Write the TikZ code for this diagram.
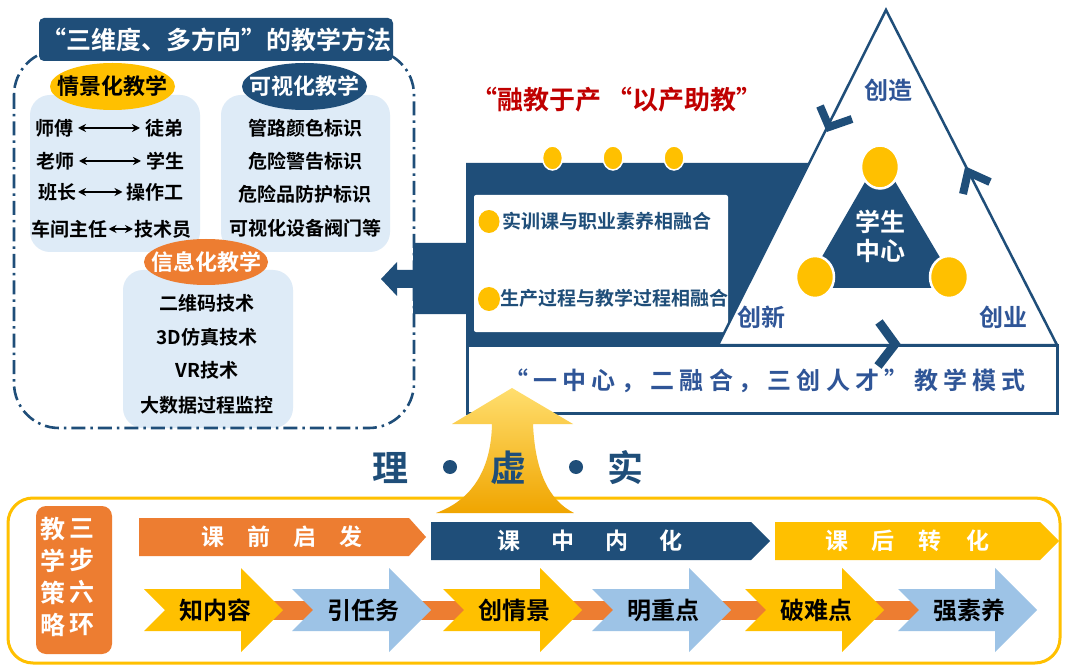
\documentclass[tikz,border=0pt]{standalone}
\usepackage{fontspec}
\setmainfont{Noto Sans CJK SC}[BoldFont={Noto Sans CJK SC Bold}]
\usetikzlibrary{arrows.meta,shapes.geometric}
\definecolor{navy}{RGB}{31,78,121}
\definecolor{tblue}{RGB}{47,85,151}
\definecolor{gold}{RGB}{255,192,0}
\definecolor{orng}{RGB}{237,125,49}
\definecolor{lightbox}{RGB}{222,235,247}
\definecolor{arrblue}{RGB}{157,195,230}
\definecolor{redtext}{RGB}{192,0,0}
\definecolor{goldA}{RGB}{255,222,110}
\definecolor{goldB}{RGB}{240,165,0}
\newcommand\fz[1]{\fontsize{#1}{#1}\selectfont\bfseries}
\newcommand\fzl[2]{\fontsize{#1}{#2}\selectfont\bfseries}
\newcommand\bigarr[4]{%
  \fill[#2] (#1,589) -- ({#1+97},589) -- ({#1+97},568) -- ({#1+139},610) -- ({#1+97},652) -- ({#1+97},631) -- (#1,631) -- ({#1+21},610) -- cycle;
  \node[font=\fz{24}] (#3) at ({#1+71},610) {#4};}
\begin{document}
\begin{tikzpicture}[x=1pt,y=-1pt,
  every node/.style={inner sep=0pt, outer sep=0pt},
  lbx/.style={fill=lightbox, rounded corners=20},
  item/.style={font=\fz{19}, inner sep=5pt},
  dbl/.style={{Stealth[length=8pt,width=8pt]}-{Stealth[length=8pt,width=8pt]}, line width=2},
  oval/.style={ellipse, minimum width=125, minimum height=47},
  dashdot/.style={navy, line width=2.6, dash pattern=on 14pt off 5pt on 2.5pt off 5pt, rounded corners=45},
  chev/.style={navy, line width=8, miter limit=10},
  gdot/.style={ellipse, fill=gold},
  banner/.style={font=\fz{23}, text=white}
]
\useasboundingbox (0,0) rectangle (1068,668);
\fill[white] (0,0) rectangle (1068,668);

% ---------- left group ----------
\node[lbx, minimum width=170, minimum height=157] (box1) at (115,173.5) {};
\node[lbx, minimum width=169, minimum height=157] (box2) at (305.5,173.5) {};
\node[lbx, minimum width=170, minimum height=158] (box3) at (208,349) {};

\node[oval, fill=gold] (e1) at (112.5,86.5) {};
\node[font=\fz{22}] at (e1) {情景化教学};
\node[oval, fill=navy] (e2) at (304.5,86.5) {};
\node[font=\fz{22}, text=white] at (e2) {可视化教学};
\node[oval, fill=orng, minimum width=124, minimum height=46] (e3) at (206,262) {};
\node[font=\fz{22}, text=white] at (e3) {信息化教学};

\node[item] (s1) at (54,128) {师傅};
\node[item] (t1) at (164,128) {徒弟};
\draw[dbl] (s1) -- (t1);
\node[item] (s2) at (55,161) {老师};
\node[item] (t2) at (165,161) {学生};
\draw[dbl] (s2) -- (t2);
\node[item, inner sep=2pt] (s3) at (57,192) {班长};
\node[item, inner sep=4pt] (t3) at (155,192) {操作工};
\draw[dbl] (s3) -- (t3);
\node[item, inner sep=1pt] (s4) at (69.5,229) {车间主任};
\node[item, inner sep=1pt] (t4) at (162.5,229) {技术员};
\draw[dbl] (s4) -- (t4);

\node[item] (v1) at (305,128) {管路颜色标识};
\node[item] (v2) at (305,161) {危险警告标识};
\node[item] (v3) at (305,194) {危险品防护标识};
\node[item] (v4) at (305,228) {可视化设备阀门等};

\node[item] (i1) at (207,303) {二维码技术};
\node[item] (i2) at (207,337) {3D仿真技术};
\node[item] (i3) at (207,370) {VR技术};
\node[item] (i4) at (207,405) {大数据过程监控};

\draw[dashdot] (14,50) rectangle (414,428);

\node[fill=navy, rounded corners=5, minimum width=354, minimum height=43, text=white, font=\fz{25}] (title) at (216,39.5) {“三维度、多方向”的教学方法};

% ---------- middle block ----------
\fill[navy] (466,163) -- (840,163) -- (840,345) -- (466,345) -- (466,314) -- (413,314) -- (413,288) -- (397,288) -- (397,296) -- (381,279) -- (397,262) -- (397,270) -- (413,270) -- (413,243) -- (466,243) -- cycle;
\node[gdot, draw=white, line width=1.5, minimum width=20, minimum height=24] (d1) at (552.5,158) {};
\node[gdot, draw=white, line width=1.5, minimum width=20, minimum height=24] (d2) at (613,158) {};
\node[gdot, draw=white, line width=1.5, minimum width=20, minimum height=24] (d3) at (674,158) {};
\node[fill=white, rounded corners=2, minimum width=254, minimum height=137] (fuse) at (601,263.5) {};
\node[gdot, minimum width=21, minimum height=23] (f1) at (489,221.5) {};
\node[font=\fz{19}, text=navy, anchor=west] (ft1) at (502,221) {实训课与职业素养相融合};
\node[gdot, minimum width=22, minimum height=24] (f2) at (489,299) {};
\node[font=\fz{19}, text=navy, anchor=west] (ft2) at (500,298) {生产过程与教学过程相融合};

\node[font=\fz{26}, text=redtext] (slogan) at (617,100) {“融教于产 “以产助教”};

% ---------- mode box ----------
\node[draw=navy, line width=3, fill=white, minimum width=590, minimum height=68] (mode) at (762,379) {};
\node[font=\fz{24}\addfontfeature{LetterSpace=22}, text=tblue] (modetext) at (765,381) {“一中心，二融合，三创人才”教学模式};

% ---------- triangle ----------
\coordinate (ta) at (886,10);
\coordinate (tl) at (718,345);
\coordinate (tr) at (1057,345);
\draw[navy, line width=2.5, fill=white, line join=miter] (ta) -- (tl) -- (tr) -- cycle;
\fill[navy] (880,156) -- (804,288) -- (958,288) -- cycle;
\node[gdot, draw=white, line width=2.5, minimum width=38, minimum height=43] (c1) at (880,167) {};
\node[gdot, draw=white, line width=2.5, minimum width=38, minimum height=42] (c2) at (815,277) {};
\node[gdot, draw=white, line width=2.5, minimum width=38, minimum height=42] (c3) at (949,277) {};
\node[font=\fzl{25}{29}, text=white, align=center] (center) at (880,236) {学生\\中心};
\node[font=\fz{24}, text=tblue] (cz) at (888,90) {创造};
\node[font=\fz{24}, text=tblue] (cx) at (761,317) {创新};
\node[font=\fz{24}, text=tblue] (cy) at (1003,317) {创业};
\draw[chev] (820,106) -- (829,127) -- (852,119);
\draw[chev] (963,194) -- (968,172) -- (990,182);
\draw[chev, line width=9] (879,322) -- (895,344) -- (878,366);

% ---------- bottom ----------
\draw[gold, line width=3, rounded corners=25] (8,498) rectangle (1060,663);

\node[fill=orng, rounded corners=10, minimum width=76, minimum height=148] (strat) at (74,580) {};
\node[font=\fzl{25}{32}, text=white, align=center] (sc1) at (53,577) {教\\学\\策\\略};
\node[font=\fzl{25}{32}, text=white, align=center] (sc2) at (82,577) {三\\步\\六\\环};

\fill[orng] (139,518) -- (409,518) -- (426,537) -- (409,556) -- (139,556) -- cycle;
\node[banner] (b1) at (282,537) {课\hspace{23pt}前\hspace{23pt}启\hspace{23pt}发};
\fill[navy] (431,522) -- (751,522) -- (770,541) -- (751,560) -- (431,560) -- cycle;
\node[banner] (b2) at (590,541) {课\hspace{31pt}中\hspace{31pt}内\hspace{31pt}化};
\fill[gold] (775,522) -- (1040,522) -- (1059,541) -- (1040,560) -- (775,560) -- cycle;
\node[banner] (b3) at (907,541) {课\hspace{24pt}后\hspace{24pt}转\hspace{24pt}化};

\fill[orng] (200,601) rectangle (1000,620);
\bigarr{144}{gold}{a1}{知内容}
\bigarr{292}{arrblue}{a2}{引任务}
\bigarr{443}{gold}{a3}{创情景}
\bigarr{592}{arrblue}{a4}{明重点}
\bigarr{745}{gold}{a5}{破难点}
\bigarr{898}{arrblue}{a6}{强素养}

% ---------- gold up arrow ----------
\shade[top color=goldA, bottom color=goldB] (512,388) -- (573,424) -- (533,424) .. controls (535,470) and (548,500) .. (574,513) -- (436,513) .. controls (472,500) and (491,470) .. (492,424) -- (452,424) -- cycle;

\node[font=\fz{36}, text=navy] (li) at (390,468) {理};
\fill[navy] (450,467) circle (7);
\node[font=\fz{36}, text=navy] (xu) at (508,468) {虚};
\fill[navy] (576,467) circle (7);
\node[font=\fz{36}, text=navy] (shi) at (625,468) {实};
\end{tikzpicture}
\end{document}
